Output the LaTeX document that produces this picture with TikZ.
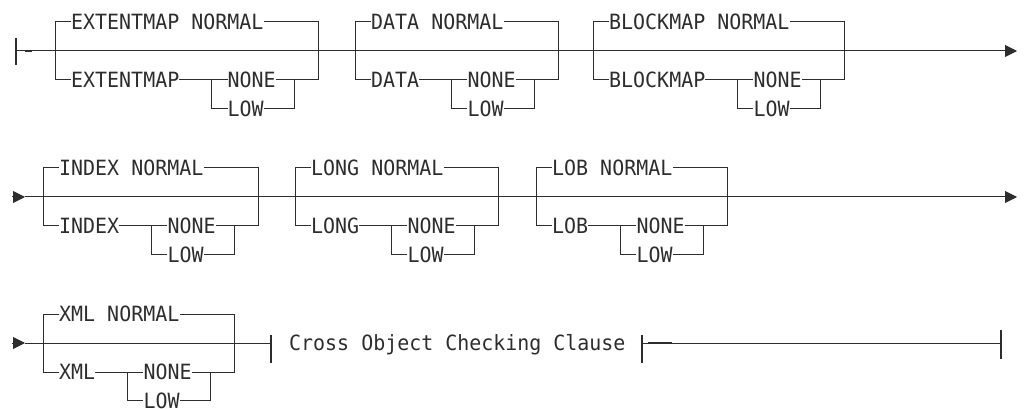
\documentclass[tikz,border=0pt]{standalone}
\usepackage{fontspec}
\newfontfamily\railfont[FakeStretch=0.95]{DejaVu Sans Mono}
\usepackage{xcolor}
\definecolor{railgray}{RGB}{45,45,45}
\usepackage{tikz}
\usetikzlibrary{arrows.meta,calc}

% one optional keyword group: KW NORMAL (default) / KW NONE|LOW
\newcommand{\optgroup}[4]{% name, left x, main line y, keyword
  \node[kw] (#1-dflt) at (#2+16,#3-29) {#4 NORMAL};
  \node[kw] (#1-kw)   at (#2+16,#3+29) {#4};
  \coordinate (#1-il) at ($(#1-kw.east)+(32,0)$);
  \node[kw] (#1-none) at ($(#1-il)+(16,0)$) {NONE};
  \node[kw] (#1-low)  at ($(#1-il)+(16,28.5)$) {LOW};
  \coordinate (#1-ir) at ($(#1-none.east)+(19,0)$);
  \coordinate (#1-r)  at ($(#1-ir)+(24,0)$);
  \draw[railline] (#1-dflt.west) -| (#2,#3+29) -- (#1-kw.west);
  \draw[railline] (#1-kw.east) -- (#1-none.west);
  \draw[railline] (#1-il) |- (#1-low.west);
  \draw[railline] (#1-low.east) -| (#1-ir) -- (#1-none.east);
  \draw[railline] (#1-ir) -- (#1-r) |- (#1-dflt.east);
}

\begin{document}
\begin{tikzpicture}[x=1pt, y=-1pt,
  railline/.style={draw=railgray, line width=1pt},
  bar/.style={draw=railgray, line width=1.3pt},
  dashmark/.style={draw=railgray, line width=2pt},
  tip/.style={-{Triangle[length=12pt, width=12pt]}, railgray},
  kw/.style={anchor=west, inner sep=0pt, text=railgray,
    font=\railfont\fontsize{21}{21}\selectfont, text height=15.3pt, text depth=0pt}]
\useasboundingbox (0,0) rectangle (1029,409);

% row 1
\coordinate (r1-start) at (16,51);
\coordinate (r1-end)   at (1017,51);
\draw[bar] ($(r1-start)+(0,-13)$) -- ($(r1-start)+(0,14)$);
\draw[railline, tip] (r1-start) -- (r1-end);
\draw[dashmark] ($(r1-start)+(9,0)$) -- ($(r1-start)+(16,0)$);
\optgroup{ext}{55}{51}{EXTENTMAP}
\optgroup{data}{355}{51}{DATA}
\optgroup{blk}{593}{51}{BLOCKMAP}

% row 2
\coordinate (r2-in)  at (12,197);
\coordinate (r2-tip) at (25,197);
\coordinate (r2-end) at (1017,197);
\draw[railline, tip] (r2-in) -- (r2-tip);
\draw[railline, tip] (r2-tip) -- (r2-end);
\optgroup{idx}{43}{197}{INDEX}
\optgroup{long}{295}{197}{LONG}
\optgroup{lob}{536}{197}{LOB}

% row 3
\coordinate (r3-in)  at (12,343);
\coordinate (r3-tip) at (25,343);
\draw[railline, tip] (r3-in) -- (r3-tip);
\optgroup{xml}{43}{343}{XML}
\coordinate (r3-bar1) at (271,343);
\node[kw] (clause) at (289,343) {Cross Object Checking Clause};
\coordinate (r3-bar2) at (642,343);
\coordinate (r3-end)  at (1001,343);
\draw[railline] (r3-tip) -- (r3-bar1);
\draw[bar] ($(r3-bar1)+(0,-8)$) -- ($(r3-bar1)+(0,20)$);
\draw[bar] ($(r3-bar2)+(0,-8)$) -- ($(r3-bar2)+(0,20)$);
\draw[railline] (r3-bar2) -- (r3-end);
\draw[dashmark] ($(r3-bar2)+(6,0)$) -- ($(r3-bar2)+(30,0)$);
\draw[bar] ($(r3-end)+(0,-13)$) -- ($(r3-end)+(0,16)$);
\end{tikzpicture}
\end{document}
